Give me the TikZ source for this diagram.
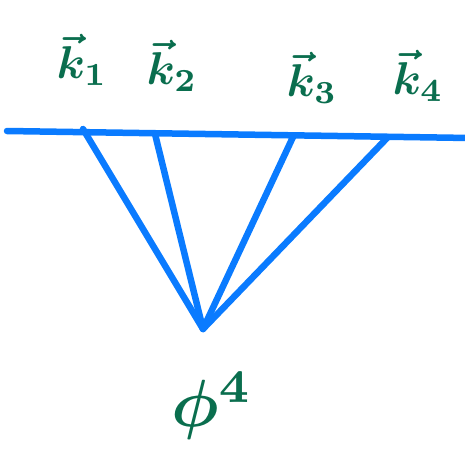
\documentclass[tikz,border=0pt]{standalone}
\usepackage{amsmath}
\usepackage{bm}
\definecolor{penblue}{HTML}{0A7BFF}
\definecolor{pengreen}{HTML}{0A6E4E}
\begin{document}
\begin{tikzpicture}[x=1pt,y=-1pt,
  stroke/.style={draw=penblue,line width=6.5pt,line cap=round,line join=round},
  lbl/.style={text=pengreen,inner sep=0pt,scale=4.6}]
\useasboundingbox (0,0) rectangle (464,469);
\coordinate (L) at (7,131);
\coordinate (R) at (470,138);
\coordinate (a1) at (83,129);
\coordinate (a2) at (155,134);
\coordinate (a3) at (293,137);
\coordinate (a4) at (388,137);
\coordinate (v) at (203,329);
\draw[stroke] (L) -- (R);
\draw[stroke] (a1) -- (v);
\draw[stroke] (a2) -- (v);
\draw[stroke] (a3) -- (v);
\draw[stroke] (a4) -- (v);
\node[lbl] (k1) at (82,60) {$\bm{\vec{k}_1}$};
\node[lbl] (k2) at (172,66) {$\bm{\vec{k}_2}$};
\node[lbl] (k3) at (312,78) {$\bm{\vec{k}_3}$};
\node[lbl] (k4) at (418,76) {$\bm{\vec{k}_4}$};
\node[lbl,scale=1.45] (phi) at (212,406) {$\bm{\phi^4}$};
\end{tikzpicture}
\end{document}
